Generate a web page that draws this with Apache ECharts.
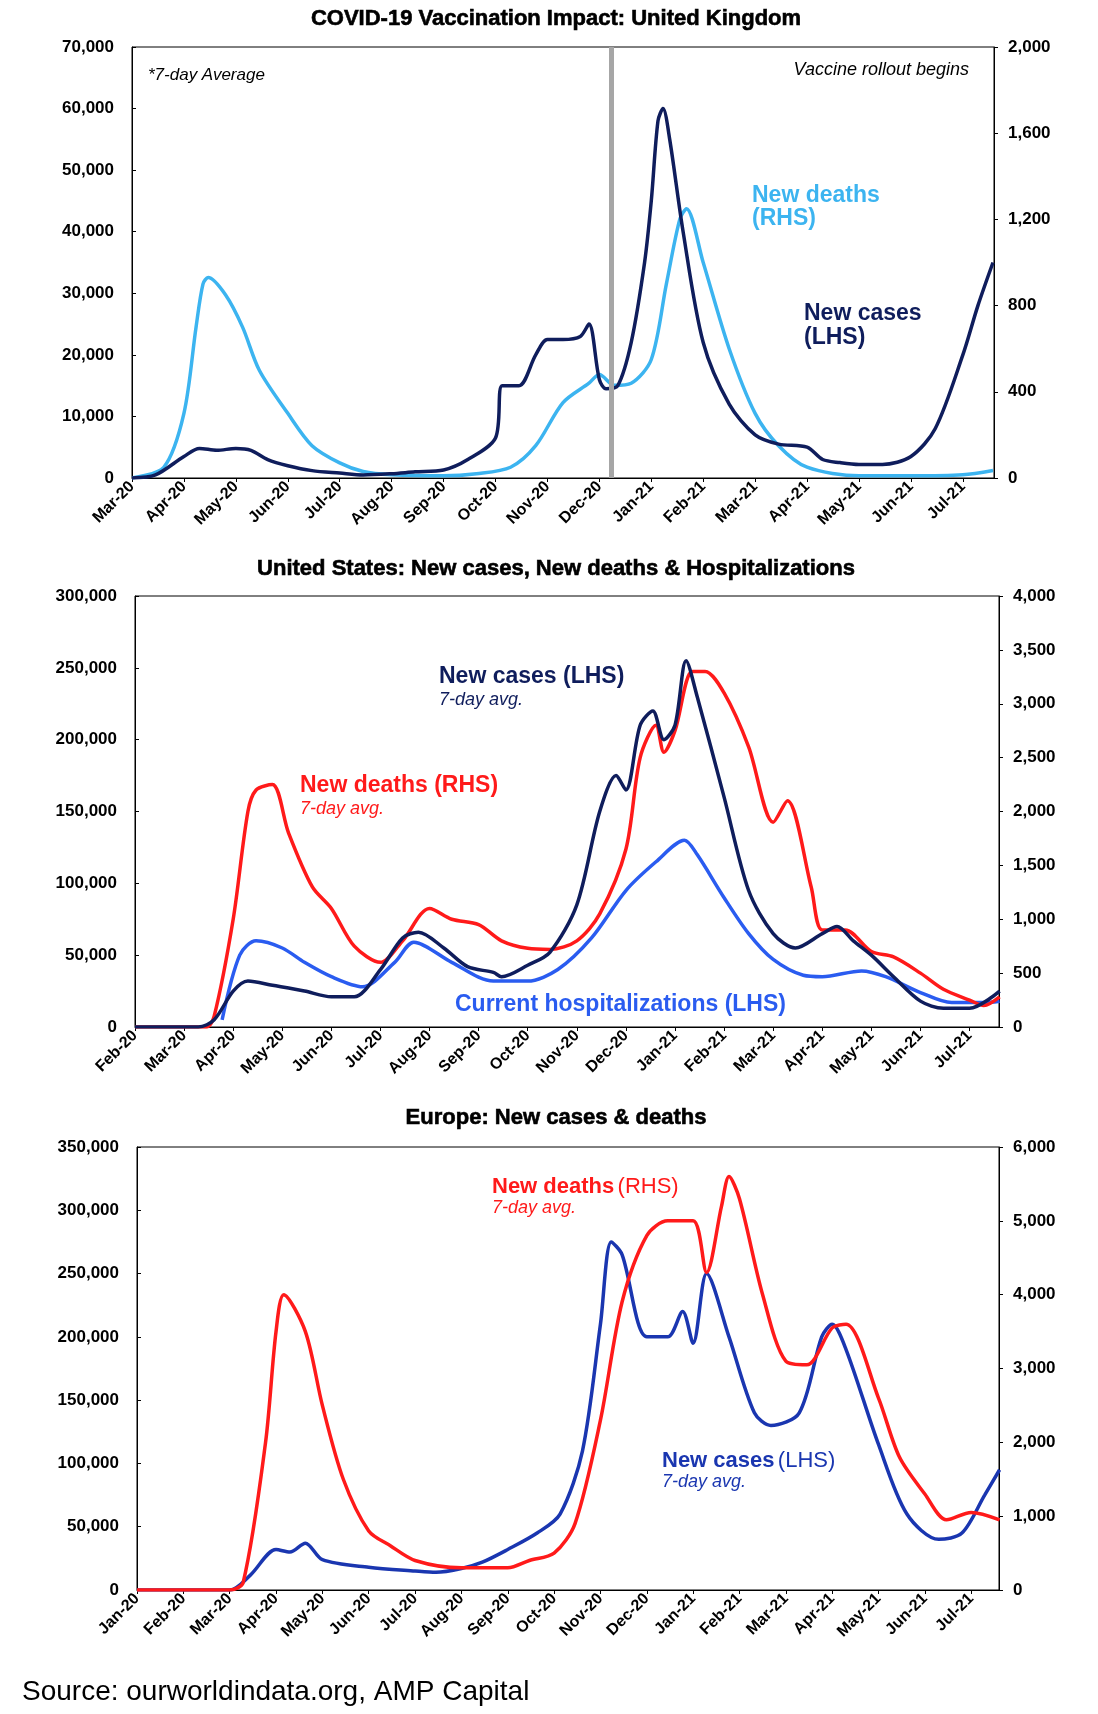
<!DOCTYPE html>
<html>
<head>
<meta charset="utf-8">
<script src="https://cdn.jsdelivr.net/npm/echarts@6/dist/echarts.min.js"></script>
<style>
html, body { margin: 0; padding: 0; background: #fff; }
#main { width: 1098px; height: 1714px; }
</style>
</head>
<body>
<div id="main"></div>
<script>
var ukCases = [
    ['2020-03-01', 0], ['2020-03-15', 500], ['2020-04-01', 3500], ['2020-04-10', 4800], ['2020-04-20', 4500],
    ['2020-05-01', 4800], ['2020-05-10', 4500], ['2020-05-20', 3000], ['2020-06-01', 2000], ['2020-06-15', 1200],
    ['2020-07-01', 800], ['2020-07-15', 500], ['2020-08-01', 700], ['2020-08-15', 1000], ['2020-09-01', 1300],
    ['2020-09-15', 3000], ['2020-10-01', 6500], ['2020-10-05', 15000], ['2020-10-15', 15000], ['2020-10-25', 20000],
    ['2020-11-01', 22500], ['2020-11-10', 22500], ['2020-11-20', 23000], ['2020-11-25', 25000], ['2020-12-01', 16000],
    ['2020-12-05', 14500], ['2020-12-12', 15000], ['2020-12-20', 22000], ['2020-12-28', 35000], ['2021-01-01', 45000],
    ['2021-01-05', 58000], ['2021-01-08', 60000], ['2021-01-12', 55000], ['2021-01-20', 40000], ['2021-02-01', 22000],
    ['2021-02-15', 12000], ['2021-03-01', 7000], ['2021-03-15', 5500], ['2021-04-01', 5000], ['2021-04-10', 3000],
    ['2021-04-20', 2500], ['2021-05-01', 2200], ['2021-05-15', 2200], ['2021-06-01', 3500], ['2021-06-15', 8000],
    ['2021-07-01', 20000], ['2021-07-10', 28000], ['2021-07-19', 35000]
];
var ukDeaths = [
    ['2020-03-01', 0], ['2020-03-20', 50], ['2020-04-01', 300], ['2020-04-08', 700], ['2020-04-12', 900],
    ['2020-04-15', 930], ['2020-04-25', 850], ['2020-05-05', 700], ['2020-05-15', 500], ['2020-06-01', 300],
    ['2020-06-15', 150], ['2020-07-01', 70], ['2020-07-15', 30], ['2020-08-01', 15], ['2020-09-01', 10],
    ['2020-09-20', 20], ['2020-10-10', 50], ['2020-10-25', 150], ['2020-11-10', 350], ['2020-11-25', 440],
    ['2020-12-01', 480], ['2020-12-10', 430], ['2020-12-20', 440], ['2021-01-01', 550], ['2021-01-10', 900],
    ['2021-01-18', 1200], ['2021-01-22', 1250], ['2021-02-01', 1000], ['2021-02-15', 600], ['2021-03-01', 300],
    ['2021-03-15', 150], ['2021-04-01', 50], ['2021-05-01', 10], ['2021-06-01', 10], ['2021-07-01', 15],
    ['2021-07-19', 35]
];
var usCases = [
    ['2020-02-01', 0], ['2020-03-10', 0], ['2020-03-20', 5000], ['2020-04-01', 25000], ['2020-04-10', 32000],
    ['2020-04-25', 29000], ['2020-05-15', 25000], ['2020-06-01', 21000], ['2020-06-15', 21000], ['2020-07-01', 40000],
    ['2020-07-15', 62000], ['2020-07-25', 66000], ['2020-08-10', 55000], ['2020-08-25', 42000], ['2020-09-10', 38000],
    ['2020-09-15', 35000], ['2020-10-01', 43000], ['2020-10-15', 52000], ['2020-11-01', 85000], ['2020-11-15', 150000],
    ['2020-11-25', 175000], ['2020-12-01', 165000], ['2020-12-10', 210000], ['2020-12-18', 220000], ['2020-12-25', 200000],
    ['2021-01-01', 210000], ['2021-01-08', 255000], ['2021-01-15', 230000], ['2021-02-01', 160000], ['2021-02-15', 95000],
    ['2021-03-01', 65000], ['2021-03-15', 55000], ['2021-04-01', 65000], ['2021-04-10', 70000], ['2021-04-20', 60000],
    ['2021-05-01', 50000], ['2021-05-15', 35000], ['2021-06-01', 18000], ['2021-06-15', 13000], ['2021-07-01', 13000],
    ['2021-07-20', 25000]
];
var usDeaths = [
    ['2020-02-01', 0], ['2020-03-15', 0], ['2020-03-20', 100], ['2020-04-01', 1000], ['2020-04-10', 2000],
    ['2020-04-15', 2200], ['2020-04-25', 2250], ['2020-05-05', 1800], ['2020-05-20', 1300], ['2020-06-01', 1100],
    ['2020-06-15', 750], ['2020-07-01', 600], ['2020-07-15', 800], ['2020-08-01', 1100], ['2020-08-15', 1000],
    ['2020-09-01', 950], ['2020-09-15', 800], ['2020-10-01', 730], ['2020-10-15', 720], ['2020-11-01', 800],
    ['2020-11-15', 1050], ['2020-12-01', 1650], ['2020-12-10', 2500], ['2020-12-20', 2800], ['2020-12-25', 2550],
    ['2021-01-01', 2750], ['2021-01-12', 3300], ['2021-01-20', 3300], ['2021-02-01', 3100], ['2021-02-15', 2600],
    ['2021-03-01', 1900], ['2021-03-10', 2100], ['2021-03-25', 1300], ['2021-04-01', 900], ['2021-04-15', 900],
    ['2021-05-01', 700], ['2021-05-15', 650], ['2021-06-01', 500], ['2021-06-15', 350], ['2021-07-01', 250],
    ['2021-07-10', 200], ['2021-07-20', 280]
];
var usHosp = [
    ['2020-03-25', 5000], ['2020-04-05', 50000], ['2020-04-15', 60000], ['2020-05-01', 55000], ['2020-05-15', 45000],
    ['2020-06-01', 35000], ['2020-06-20', 28000], ['2020-07-10', 45000], ['2020-07-22', 59000], ['2020-08-15', 45000],
    ['2020-09-10', 32000], ['2020-10-01', 32000], ['2020-10-20', 40000], ['2020-11-10', 62000], ['2020-12-01', 95000],
    ['2020-12-20', 115000], ['2021-01-07', 130000], ['2021-01-15', 120000], ['2021-02-01', 90000], ['2021-02-15', 65000],
    ['2021-03-01', 47000], ['2021-03-20', 36000], ['2021-04-01', 35000], ['2021-04-25', 39000], ['2021-05-10', 35000],
    ['2021-06-01', 24000], ['2021-06-20', 17000], ['2021-07-10', 17000], ['2021-07-20', 18000]
];
var euCases = [
    ['2020-01-01', 0], ['2020-03-01', 0], ['2020-03-15', 12000], ['2020-04-01', 32000], ['2020-04-10', 30000],
    ['2020-04-20', 37000], ['2020-05-01', 24000], ['2020-06-01', 18000], ['2020-07-01', 15000], ['2020-07-15', 14000],
    ['2020-08-01', 17000], ['2020-08-15', 22000], ['2020-09-01', 32000], ['2020-09-20', 45000], ['2020-10-05', 60000],
    ['2020-10-20', 110000], ['2020-11-01', 210000], ['2020-11-08', 275000], ['2020-11-15', 265000], ['2020-12-01', 200000],
    ['2020-12-15', 200000], ['2020-12-25', 220000], ['2021-01-01', 195000], ['2021-01-10', 250000], ['2021-01-25', 200000],
    ['2021-02-10', 140000], ['2021-02-20', 130000], ['2021-03-10', 140000], ['2021-03-25', 200000], ['2021-04-01', 210000],
    ['2021-04-10', 190000], ['2021-05-01', 115000], ['2021-05-20', 60000], ['2021-06-10', 40000], ['2021-06-25', 45000],
    ['2021-07-10', 75000], ['2021-07-20', 95000]
];
var euDeaths = [
    ['2020-01-01', 0], ['2020-03-01', 0], ['2020-03-10', 100], ['2020-03-25', 2000], ['2020-04-01', 3500],
    ['2020-04-06', 4000], ['2020-04-20', 3500], ['2020-05-01', 2500], ['2020-05-15', 1500], ['2020-06-01', 800],
    ['2020-06-15', 600], ['2020-07-01', 400], ['2020-08-01', 300], ['2020-09-01', 300], ['2020-09-15', 400],
    ['2020-10-01', 500], ['2020-10-15', 900], ['2020-11-01', 2300], ['2020-11-15', 3900], ['2020-12-01', 4800],
    ['2020-12-15', 5000], ['2021-01-01', 5000], ['2021-01-10', 4300], ['2021-01-20', 5200], ['2021-01-25', 5600],
    ['2021-02-01', 5300], ['2021-02-15', 4000], ['2021-03-01', 3100], ['2021-03-15', 3050], ['2021-04-01', 3550],
    ['2021-04-10', 3600], ['2021-05-01', 2600], ['2021-05-15', 1800], ['2021-06-01', 1300], ['2021-06-15', 950],
    ['2021-07-01', 1050], ['2021-07-20', 950]
];
var monthNames = ['Jan', 'Feb', 'Mar', 'Apr', 'May', 'Jun', 'Jul', 'Aug', 'Sep', 'Oct', 'Nov', 'Dec'];
var vaccineDate = '2020-12-08';

// month index counted from a starting month of 2020 (0 = Jan)
function toIdx(dateStr, start) {
    var p = dateStr.split('-');
    var y = +p[0], m = +p[1] - 1, d = +p[2];
    var days = new Date(y, m + 1, 0).getDate();
    return (y - 2020) * 12 + m - start + (d - 1) / days;
}
function conv(arr, start) {
    return arr.map(function (r) { return [toIdx(r[0], start), r[1]]; });
}
function monthLabel(start) {
    return function (v) {
        var k = Math.round(v) + start;
        return monthNames[k % 12] + '-' + (20 + Math.floor(k / 12));
    };
}
function fmt(v) { return v.toLocaleString('en-US'); }

var F = 'Liberation Sans, Arial, sans-serif';
var lbl = { fontFamily: F, fontWeight: 'bold', fontSize: 16, color: '#000' };
var axLine = { show: true, lineStyle: { color: '#000', width: 1 } };

function xAxis(gi, start, max) {
    return {
        type: 'value', gridIndex: gi, min: 0, max: max, interval: 1,
        axisLine: axLine, axisTick: { show: true, length: 4, lineStyle: { color: '#000' } },
        splitLine: { show: false },
        axisLabel: Object.assign({ rotate: 45, formatter: monthLabel(start), showMaxLabel: false, margin: 6 }, lbl)
    };
}
function yAxis(gi, max, interval, pos) {
    return {
        type: 'value', gridIndex: gi, min: 0, max: max, interval: interval, position: pos,
        axisLine: axLine, axisTick: { show: true, length: 4, inside: pos === 'left', lineStyle: { color: '#000' } },
        splitLine: { show: false },
        axisLabel: Object.assign({ formatter: fmt, margin: pos === 'left' ? 18 : 14 }, lbl, { fontSize: 17 })
    };
}
function line(name, data, xi, yi, color, w) {
    return {
        name: name, type: 'line', data: data, xAxisIndex: xi, yAxisIndex: yi,
        showSymbol: false, smooth: 0.3, lineStyle: { color: color, width: w || 3.5 }, itemStyle: { color: color }
    };
}
function txt(x, y, s, color, size, italic, bold, align) {
    return {
        type: 'text', x: x, y: y,
        style: {
            text: s, fill: color, fontFamily: F, fontSize: size,
            fontStyle: italic ? 'italic' : 'normal', fontWeight: bold ? 'bold' : 'normal',
            align: align || 'left', verticalAlign: 'middle'
        }
    };
}
function title(y, s) {
    var t = txt(556, y, s, '#000', 22, false, true, 'center');
    t.style.fontWeight = 900;
    t.style.stroke = '#000';
    t.style.lineWidth = 0.6;
    return t;
}
function rich(x, y, a, b, color) {
    return {
        type: 'text', x: x, y: y,
        style: {
            text: '{b|' + a + '} {n|' + b + '}', verticalAlign: 'middle',
            rich: {
                b: { fill: color, fontFamily: F, fontSize: 22, fontWeight: 'bold' },
                n: { fill: color, fontFamily: F, fontSize: 22 }
            }
        }
    };
}

var navy = '#0f1d5c', lightBlue = '#3cb4f0', red = '#ff1a1a', hospBlue = '#2a5cf0', euBlue = '#1a36b0';

var chart = echarts.init(document.getElementById('main'));
var option = {
    animation: false,
    grid: [
        { left: 132, right: 104, top: 47, height: 431, show: true, borderColor: '#000', borderWidth: 1 },
        { left: 135, right: 99, top: 596, height: 431, show: true, borderColor: '#000', borderWidth: 1 },
        { left: 137, right: 99, top: 1147, height: 443, show: true, borderColor: '#000', borderWidth: 1 }
    ],
    xAxis: [xAxis(0, 2, 16.6), xAxis(1, 1, 17.6), xAxis(2, 0, 18.6)],
    yAxis: [
        yAxis(0, 70000, 10000, 'left'), yAxis(0, 2000, 400, 'right'),
        yAxis(1, 300000, 50000, 'left'), yAxis(1, 4000, 500, 'right'),
        yAxis(2, 350000, 50000, 'left'), yAxis(2, 6000, 1000, 'right')
    ],
    series: [
        Object.assign(line('UK deaths', conv(ukDeaths, 2), 0, 1, lightBlue), {
            markLine: {
                symbol: 'none', silent: true, label: { show: false },
                lineStyle: { color: '#a6a6a6', width: 5, type: 'solid' },
                data: [{ xAxis: toIdx(vaccineDate, 2) }]
            }
        }),
        line('UK cases', conv(ukCases, 2), 0, 0, navy),
        line('US hosp', conv(usHosp, 1), 1, 2, hospBlue),
        line('US deaths', conv(usDeaths, 1), 1, 3, red),
        line('US cases', conv(usCases, 1), 1, 2, navy),
        line('EU cases', conv(euCases, 0), 2, 4, euBlue),
        line('EU deaths', conv(euDeaths, 0), 2, 5, red)
    ],
    graphic: [
        title(19, 'COVID-19 Vaccination Impact: United Kingdom'),
        txt(148, 75, '*7-day Average', '#000', 17, true, false),
        txt(969, 70, 'Vaccine rollout begins', '#000', 18, true, false, 'right'),
        txt(752, 196, 'New deaths', lightBlue, 23, false, true),
        txt(752, 219, '(RHS)', lightBlue, 23, false, true),
        txt(804, 314, 'New cases', navy, 23, false, true),
        txt(804, 338, '(LHS)', navy, 23, false, true),

        title(569, 'United States: New cases, New deaths & Hospitalizations'),
        txt(439, 677, 'New cases (LHS)', navy, 23, false, true),
        txt(439, 700, '7-day avg.', navy, 18, true, false),
        txt(300, 786, 'New deaths (RHS)', red, 23, false, true),
        txt(300, 809, '7-day avg.', red, 18, true, false),
        txt(455, 1005, 'Current hospitalizations (LHS)', hospBlue, 23, false, true),

        title(1118, 'Europe: New cases & deaths'),
        rich(492, 1187, 'New deaths', '(RHS)', red),
        txt(492, 1208, '7-day avg.', red, 18, true, false),
        rich(662, 1461, 'New cases', '(LHS)', euBlue),
        txt(662, 1482, '7-day avg.', euBlue, 18, true, false),

        txt(22, 1692, 'Source: ourworldindata.org, AMP Capital', '#000', 28, false, false)
    ]
};
chart.setOption(option);
</script>
</body>
</html>
